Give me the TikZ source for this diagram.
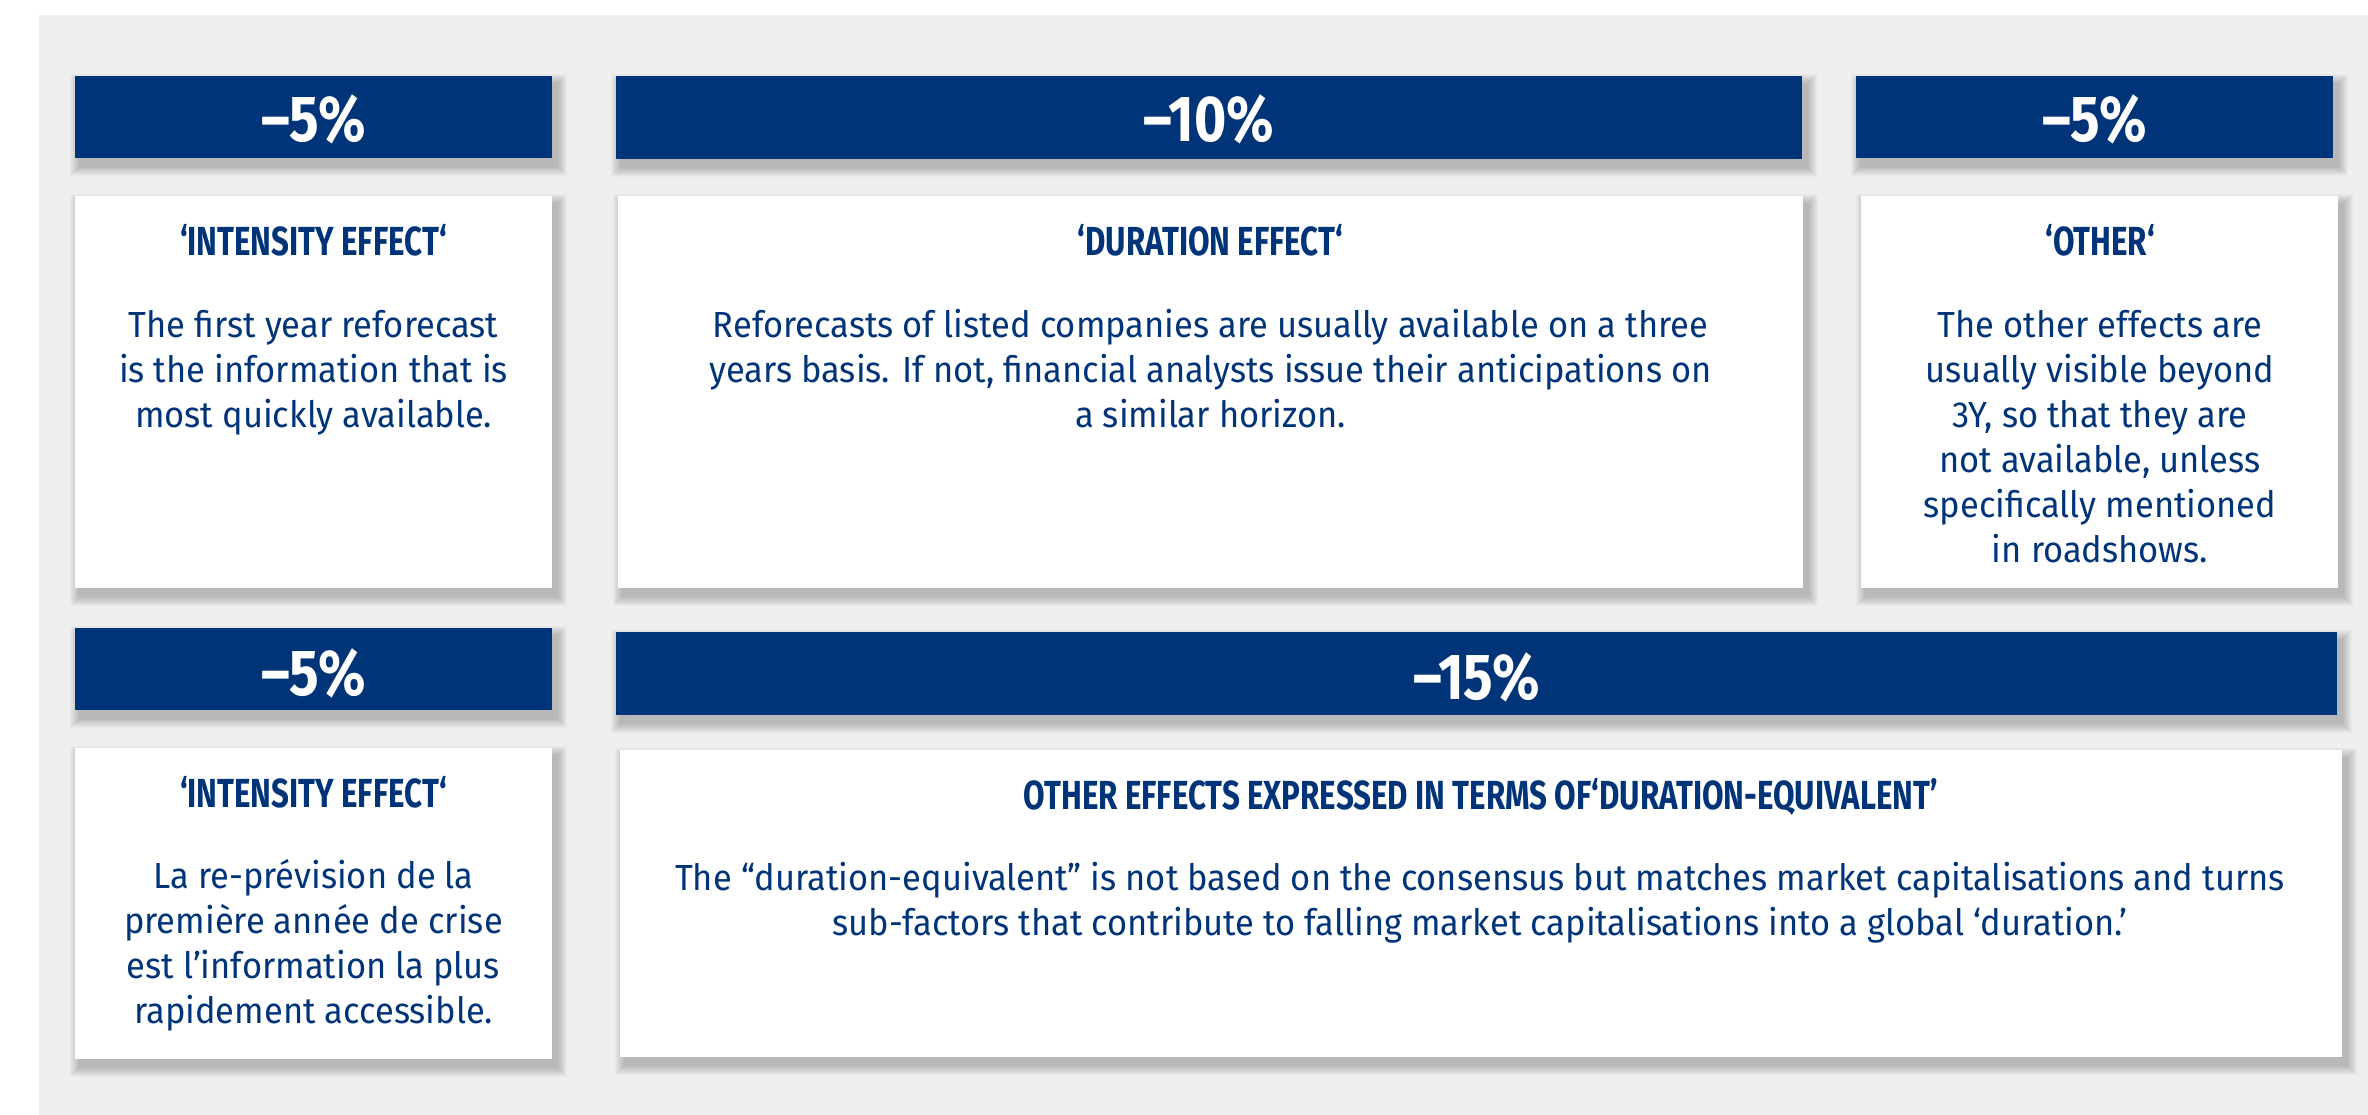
\documentclass[tikz,border=0pt]{standalone}
\usepackage{fontspec}
\setmainfont{Fira Sans}[FakeStretch=0.95]
\newfontfamily\hfont{Fira Sans}[FakeStretch=0.77]
\newfontfamily\pfont{Fira Sans}[FakeStretch=0.85]
\definecolor{navy}{RGB}{0,52,120}
\definecolor{bggray}{RGB}{239,239,239}
\newcommand\boxshadow[4]{%
  \foreach \k in {0,...,9}{%
    \fill[black,opacity=0.025] ({#1-5+\k},{#2-2+\k}) rectangle ({#3+15-\k},{#4+18-\k});
  }}
\tikzset{
  hdr/.style={fill=navy, anchor=north west, inner sep=0pt, outer sep=0pt},
  card/.style={fill=white, anchor=north west, inner sep=0pt, outer sep=0pt},
  pct/.style={text=white, font=\pfont\bfseries\fontsize{65}{65}\selectfont, anchor=base, inner sep=0pt},
  ttl/.style={text=navy, font=\hfont\bfseries\fontsize{40.6}{40.6}\selectfont, anchor=base, inner sep=0pt},
  txt/.style={text=navy, font=\fontsize{36.3}{45}\selectfont, anchor=base, inner sep=0pt},
}
\begin{document}
\begin{tikzpicture}[x=1pt,y=-1pt]
\useasboundingbox (0,0) rectangle (2368,1115);
\fill[white] (0,0) rectangle (2368,1115);
\fill[bggray] (39,15) rectangle (2368,1115);
% shadows
\boxshadow{75}{76}{552}{158}
\boxshadow{616}{76}{1802}{159}
\boxshadow{1856}{76}{2333}{158}
\boxshadow{75}{196}{552}{588}
\boxshadow{618}{196}{1803}{588}
\boxshadow{1861}{196}{2338}{588}
\boxshadow{75}{628}{552}{710}
\boxshadow{616}{632}{2337}{715}
\boxshadow{75}{748}{552}{1059}
\boxshadow{620}{750}{2342}{1057}
% headers
\node[hdr, minimum width=477pt, minimum height=82pt] (h1) at (75,76) {};
\node[hdr, minimum width=1186pt, minimum height=83pt] (h2) at (616,76) {};
\node[hdr, minimum width=477pt, minimum height=82pt] (h3) at (1856,76) {};
\node[hdr, minimum width=477pt, minimum height=82pt] (h4) at (75,628) {};
\node[hdr, minimum width=1721pt, minimum height=83pt] (h5) at (616,632) {};
% cards
\node[card, minimum width=477pt, minimum height=392pt] (c1) at (75,196) {};
\node[card, minimum width=1185pt, minimum height=392pt] (c2) at (618,196) {};
\node[card, minimum width=477pt, minimum height=392pt] (c3) at (1861,196) {};
\node[card, minimum width=477pt, minimum height=311pt] (c4) at (75,748) {};
\node[card, minimum width=1722pt, minimum height=307pt] (c5) at (620,750) {};
% percentages
\node[pct] (p1) at (313.5,142) {–5\%};
\node[pct] (p2) at (1209,142) {–10\%};
\node[pct] (p3) at (2094.5,142) {–5\%};
\node[pct] (p4) at (313.5,695) {–5\%};
\node[pct] (p5) at (1476.5,699) {–15\%};
% titles
\node[ttl] (k1) at (313.5,255) {‘INTENSITY EFFECT‘};
\node[ttl] (k2) at (1210.5,255) {‘DURATION EFFECT‘};
\node[ttl] (k3) at (2100,255) {‘OTHER‘};
\node[ttl] (k4) at (313.5,807) {‘INTENSITY EFFECT‘};
\node[ttl] (k5) at (1481,809) {OTHER EFFECTS EXPRESSED IN TERMS OF‘DURATION-EQUIVALENT’};
% body 1
\node[txt] (a1) at (313.5,337) {The first year reforecast};
\node[txt] (a2) at (313.5,382) {is the information that is};
\node[txt] (a3) at (313.5,427) {most quickly available.};
% body 2
\node[txt] (b1) at (1210.5,337) {Reforecasts of listed companies are usually available on a three};
\node[txt] (b2) at (1210.5,382) {years basis. If not, financial analysts issue their anticipations on};
\node[txt] (b3) at (1210.5,427) {a similar horizon.};
% body 3
\node[txt] (d1) at (2100,337) {The other effects are};
\node[txt] (d2) at (2100,382) {usually visible beyond};
\node[txt] (d3) at (2100,427) {3Y, so that they are};
\node[txt] (d4) at (2100,472) {not available, unless};
\node[txt] (d5) at (2100,517) {specifically mentioned};
\node[txt] (d6) at (2100,562) {in roadshows.};
% body 4
\node[txt] (e1) at (313.5,888) {La re-prévision de la};
\node[txt] (e2) at (313.5,933) {première année de crise};
\node[txt] (e3) at (313.5,978) {est l’information la plus};
\node[txt] (e4) at (313.5,1023) {rapidement accessible.};
% body 5
\node[txt] (f1) at (1480,890) {The “duration-equivalent” is not based on the consensus but matches market capitalisations and turns};
\node[txt] (f2) at (1480,935) {sub-factors that contribute to falling market capitalisations into a global ‘duration.’};
\end{tikzpicture}
\end{document}
